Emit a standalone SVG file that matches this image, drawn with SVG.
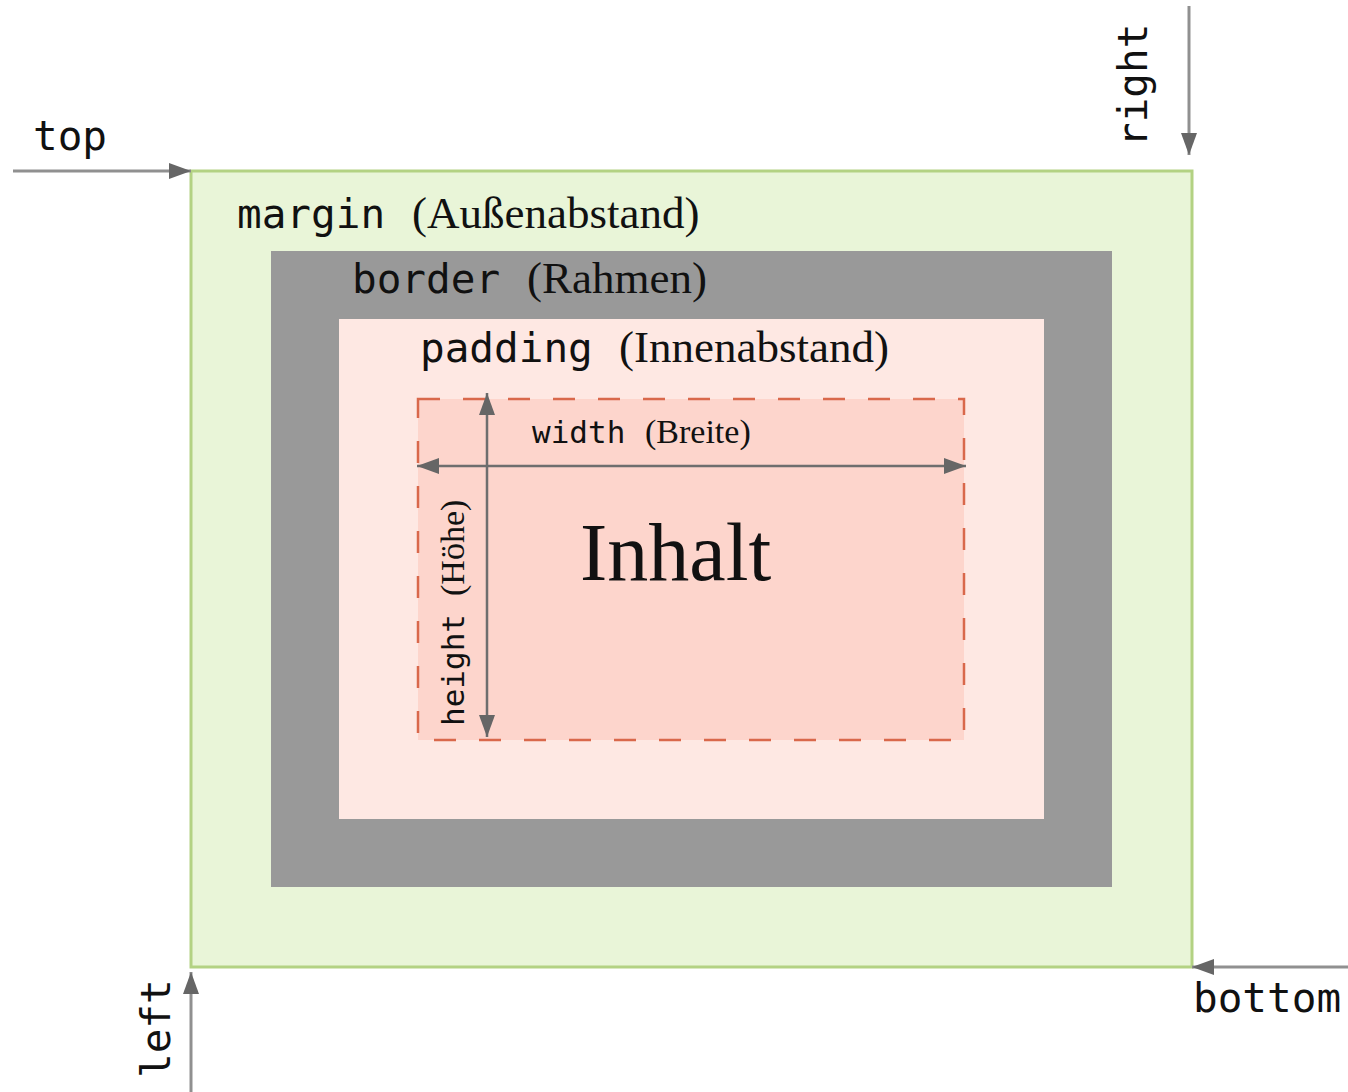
<svg xmlns="http://www.w3.org/2000/svg" width="1348" height="1092" viewBox="0 0 1348 1092">
<style>
.mono{font-family:"DejaVu Sans Mono","Liberation Mono",monospace;fill:#111}
.serif{font-family:"Liberation Serif","Times New Roman",serif;fill:#111}
.big{font-size:41px}
.small{font-size:31px}
.conn{stroke:#909090;stroke-width:3;fill:none}
.inner{stroke:#6e6e6e;stroke-width:2.5;fill:none}
</style>
<defs>
<marker id="ah" markerUnits="userSpaceOnUse" markerWidth="24" markerHeight="18" refX="22" refY="9" orient="auto-start-reverse">
<path d="M0,1 L22,9 L0,17 Z" fill="#666"/>
</marker>
</defs>
<g id="margin">
<rect x="191" y="171" width="1001" height="796" fill="#e9f5d8" stroke="#b3d283" stroke-width="3"/>
<text y="228"><tspan x="237" class="mono big">margin</tspan><tspan x="412" class="serif" font-size="45px">(Außenabstand)</tspan></text>
</g>
<g id="border">
<rect x="271" y="251" width="841" height="636" fill="#999999"/>
<text y="293"><tspan x="352" class="mono big">border</tspan><tspan x="527" class="serif" font-size="45px">(Rahmen)</tspan></text>
</g>
<g id="padding">
<rect x="339" y="319" width="705" height="500" fill="#fee8e3"/>
<text y="362"><tspan x="420" class="mono big">padding</tspan><tspan x="619" class="serif" font-size="45px">(Innenabstand)</tspan></text>
</g>
<g id="content">
<rect x="418" y="399" width="546" height="341" fill="#fdd5cc" stroke="#d9684b" stroke-width="2.5" stroke-dasharray="22,23"/>
<text x="580" y="580" class="serif" font-size="82px">Inhalt</text>
<text y="443"><tspan x="532" class="mono small">width</tspan><tspan x="645" class="serif" font-size="34px">(Breite)</tspan></text>
<text transform="translate(464,726) rotate(-90)"><tspan x="0" class="mono small">height</tspan><tspan x="130" class="serif" font-size="34px">(Höhe)</tspan></text>
</g>
<g id="labels">
<text x="33" y="150" class="mono big">top</text>
<text transform="translate(1147,147) rotate(-90)" class="mono big">right</text>
<text transform="translate(170,1078) rotate(-90)" class="mono big">left</text>
<text x="1193" y="1012" class="mono big">bottom</text>
</g>
<g id="connectors">
<line class="conn" x1="13" y1="171" x2="191" y2="171" marker-end="url(#ah)"/>
<line class="conn" x1="1189" y1="6" x2="1189" y2="155" marker-end="url(#ah)"/>
<line class="conn" x1="191" y1="1092" x2="191" y2="972" marker-end="url(#ah)"/>
<line class="conn" x1="1348" y1="967" x2="1192" y2="967" marker-end="url(#ah)"/>
<line class="inner" x1="417" y1="466" x2="966" y2="466" marker-start="url(#ah)" marker-end="url(#ah)"/>
<line class="inner" x1="487" y1="393" x2="487" y2="737" marker-start="url(#ah)" marker-end="url(#ah)"/>
</g>
</svg>
